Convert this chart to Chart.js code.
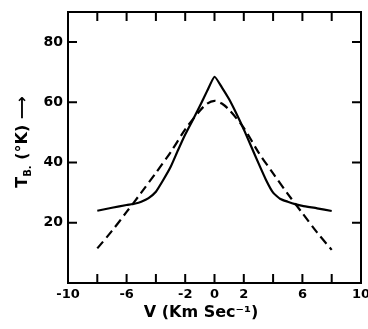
<!DOCTYPE html>
<html>
<head>
<meta charset="utf-8">
<script src="https://cdn.jsdelivr.net/npm/chart.js@4"></script>
<style>
  html, body { margin: 0; padding: 0; background: #fff; }
  #wrap { width: 368px; height: 329px; }
</style>
</head>
<body>
<div id="wrap"><canvas id="myChart"></canvas></div>
<script>
// velocity (km/s) and brightness temperature (K)
const vSolid  = [-8, -7, -6, -5.4, -5, -4.5, -4, -3.5, -3, -2.5, -2, -1.5, -1, -0.5, 0, 0.5, 1, 1.5, 2, 2.5, 3, 3.5, 4, 4.5, 5, 5.5, 6, 7, 8];
const tbSolid = [24, 25, 25.9, 26.4, 27, 28.2, 30.3, 34.2, 38.5, 44, 49.3, 54, 58.8, 63.8, 68.5, 65, 61, 56.2, 51, 45.4, 39.8, 34.4, 30, 27.9, 27, 26.2, 25.6, 24.8, 23.9];

const vDashed  = [-8, -7, -6, -5, -4, -3, -2, -1, -0.5, 0, 0.5, 1, 2, 3, 4, 5, 6, 7, 8];
const tbDashed = [11.5, 17.3, 23.6, 30, 36.6, 43.4, 51, 57.2, 59.6, 60.5, 59.6, 57.5, 51.5, 43.4, 36.4, 29.6, 23.2, 16.8, 11];

const xTickLabels = [-10, -6, -2, 0, 2, 6, 10];
const yTickLabels = [20, 40, 60, 80];

const xTitle = 'V (Km Sec\u207B\u00B9)';
const yTitleMain = 'T';
const yTitleSub = 'B.';
const yTitleRest = ' (\u00B0K) \u27F6';

const toPoints = (xs, ys) => xs.map((x, i) => ({ x: x, y: ys[i] }));

const fam = '"DejaVu Sans", sans-serif';

// box, inward ticks and axis titles
const frame = {
    id: 'frame',
    afterDraw(chart) {
        const ctx = chart.ctx;
        const a = chart.chartArea;
        const xs = chart.scales.x;
        const ys = chart.scales.y;
        const len = 9;
        ctx.save();
        ctx.strokeStyle = '#000';
        ctx.lineWidth = 2;
        ctx.strokeRect(a.left, a.top, a.right - a.left, a.bottom - a.top);
        ctx.beginPath();
        for (let v = -8; v <= 8; v += 2) {
            const px = xs.getPixelForValue(v);
            ctx.moveTo(px, a.bottom);
            ctx.lineTo(px, a.bottom - len);
            ctx.moveTo(px, a.top);
            ctx.lineTo(px, a.top + len);
        }
        yTickLabels.forEach(v => {
            const py = ys.getPixelForValue(v);
            ctx.moveTo(a.left, py);
            ctx.lineTo(a.left + len, py);
            ctx.moveTo(a.right, py);
            ctx.lineTo(a.right - len, py);
        });
        ctx.stroke();

        // x title
        ctx.fillStyle = '#000';
        ctx.font = 'bold 16px ' + fam;
        ctx.textAlign = 'center';
        ctx.textBaseline = 'middle';
        ctx.fillText(xTitle, 201, 313);

        // y title, rotated
        ctx.translate(22, 142);
        ctx.rotate(-Math.PI / 2);
        const fMain = 'bold 16px ' + fam;
        const fSub = 'bold 10px ' + fam;
        ctx.font = fMain;
        const w1 = ctx.measureText(yTitleMain).width;
        const w3 = ctx.measureText(yTitleRest).width;
        ctx.font = fSub;
        const w2 = ctx.measureText(yTitleSub).width;
        let x0 = -(w1 + w2 + w3) / 2;
        ctx.textAlign = 'left';
        ctx.textBaseline = 'alphabetic';
        ctx.font = fMain;
        ctx.fillText(yTitleMain, x0, 5);
        ctx.font = fSub;
        ctx.fillText(yTitleSub, x0 + w1, 9);
        ctx.font = fMain;
        ctx.fillText(yTitleRest, x0 + w1 + w2, 5);
        ctx.restore();
    }
};

const ctx = document.getElementById('myChart').getContext('2d');
const myChart = new Chart(ctx, {
    type: 'line',
    data: {
        datasets: [{
            label: 'observed',
            data: toPoints(vSolid, tbSolid),
            borderColor: '#000',
            borderWidth: 2.2,
            pointRadius: 0,
            tension: 0.15,
            fill: false
        }, {
            label: 'model',
            data: toPoints(vDashed, tbDashed),
            borderColor: '#000',
            borderWidth: 2.2,
            borderDash: [9, 5],
            pointRadius: 0,
            tension: 0.3,
            fill: false
        }]
    },
    options: {
        responsive: true,
        maintainAspectRatio: false,
        animation: false,
        layout: { padding: { top: 12, right: 7, left: 0, bottom: 0 } },
        plugins: {
            legend: { display: false },
            tooltip: { enabled: false }
        },
        scales: {
            x: {
                type: 'linear',
                min: -10,
                max: 10,
                afterFit: s => { s.height = 46; s.paddingLeft = 0; s.paddingRight = 0; },
                grid: { display: false, drawTicks: false },
                border: { display: false },
                ticks: {
                    stepSize: 2,
                    padding: 4,
                    color: '#000',
                    font: { family: fam, size: 13, weight: 'bold' },
                    maxRotation: 0,
                    autoSkip: false,
                    callback: v => xTickLabels.includes(v) ? String(v) : ''
                }
            },
            y: {
                min: 0,
                max: 90,
                afterFit: s => { s.width = 68; s.paddingTop = 0; s.paddingBottom = 0; },
                grid: { display: false, drawTicks: false },
                border: { display: false },
                ticks: {
                    stepSize: 20,
                    padding: 5,
                    color: '#000',
                    font: { family: fam, size: 14, weight: 'bold' },
                    callback: v => yTickLabels.includes(v) ? String(v) : ''
                }
            }
        }
    },
    plugins: [frame]
});
</script>
</body>
</html>
